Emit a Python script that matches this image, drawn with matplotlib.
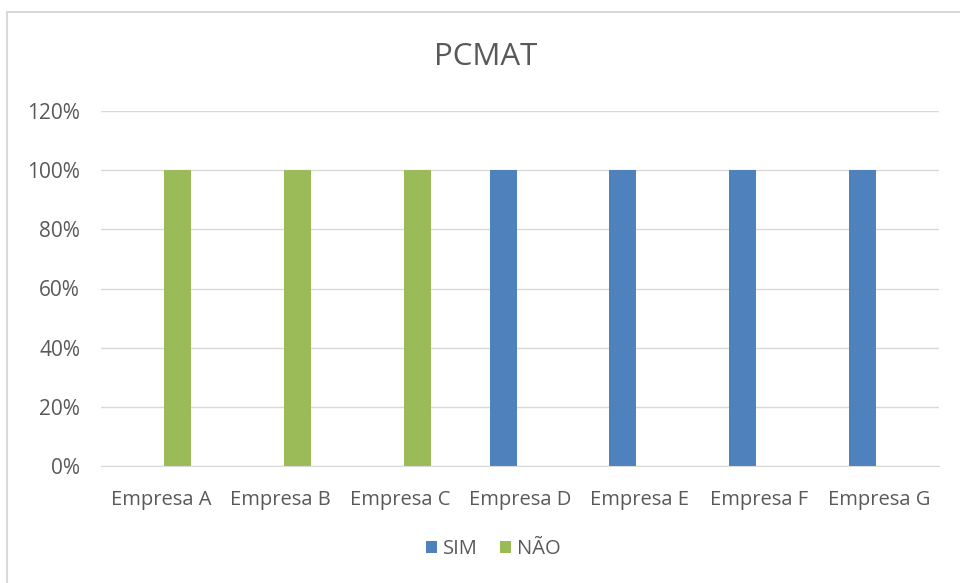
import numpy as np
import matplotlib.pyplot as plt
from matplotlib.patches import Rectangle
from matplotlib.ticker import PercentFormatter

plt.rcParams['font.family'] = ['Open Sans', 'DejaVu Sans']

# Data
empresas = ['Empresa A', 'Empresa B', 'Empresa C', 'Empresa D', 'Empresa E', 'Empresa F', 'Empresa G']
sim = [0, 0, 0, 100, 100, 100, 100]
nao = [100, 100, 100, 0, 0, 0, 0]

blue = '#4f81bd'
green = '#9bbb59'
text_gray = '#595959'

fig = plt.figure(figsize=(9.6, 5.83), dpi=100)
ax = fig.add_axes([101 / 960, 1 - 466 / 583, (939 - 101) / 960, (466 - 111) / 583])

x = np.arange(len(empresas))
w = 0.226
off = 0.14
ax.bar(x - off, sim, w, color=blue, label='SIM')
ax.bar(x + off, nao, w, color=green, label='NÃO')

ax.set_xlim(-0.5, len(empresas) - 0.5)
ax.set_ylim(0, 120)
ax.set_yticks(np.arange(0, 121, 20))
ax.yaxis.set_major_formatter(PercentFormatter(decimals=0))
ax.set_xticks(x)
ax.set_xticklabels(empresas)
ax.grid(axis='y', color='#d9d9d9', linewidth=1)
ax.set_axisbelow(True)
for s in ['top', 'right', 'left']:
    ax.spines[s].set_visible(False)
ax.spines['bottom'].set_color('#d9d9d9')
ax.tick_params(axis='both', length=0, colors=text_gray)
ax.tick_params(axis='x', pad=17, labelsize=14.5)
ax.tick_params(axis='y', pad=15, labelsize=15)

fig.text(0.506, 1 - 57 / 583, 'PCMAT', ha='center', va='center', fontsize=22.5, color=text_gray)

fig.legend(loc='center', bbox_to_anchor=(493 / 960, 1 - 549 / 583), ncol=2, frameon=False,
           fontsize=14.5, labelcolor=text_gray, handlelength=0.55, handleheight=0.55,
           handletextpad=0.3, columnspacing=1.1)

# chart border (clipped by the image on right and bottom)
fig.patches.append(Rectangle((7 / 960, -0.1), 1.2, 1 - 12 / 583 + 0.1, transform=fig.transFigure,
                             fill=False, edgecolor='#d9d9d9', linewidth=1.5))

fig.savefig('out.png', dpi=100)
